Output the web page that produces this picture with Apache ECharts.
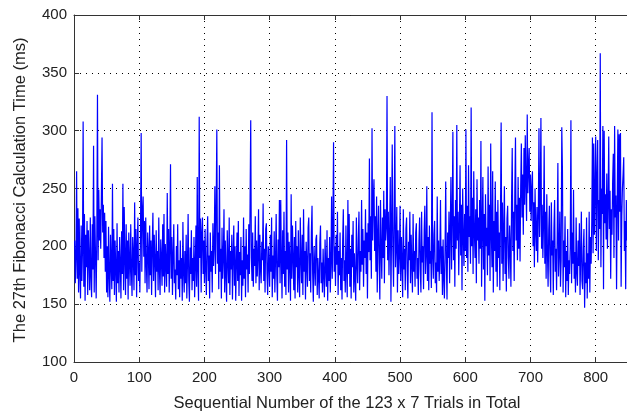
<!DOCTYPE html>
<html>
<head>
<meta charset="utf-8">
<script src="https://cdn.jsdelivr.net/npm/echarts@6/dist/echarts.min.js"></script>
<style>
html,body{margin:0;padding:0;background:#fff;}
#chart{width:627px;height:414px;}
</style>
</head>
<body>
<div id="chart"></div>
<script>
// Calculation time (ms) for each sequential trial (trial number = index + 1)
var calcTimes = [
205,168,190,265,172,233,160,224,178,155,218,170,196,308,165,228,153,210,182,222,
158,214,190,162,225,174,156,219,180,287,160,226,192,155,210,331,188,249,205,232,
198,245,294,212,236,190,229,178,222,160,200,156,217,175,152,210,184,163,254,170,
215,158,205,182,152,220,168,196,160,208,185,155,213,176,254,162,234,190,158,219,
172,205,154,212,188,166,219,180,157,208,193,162,238,175,215,156,200,225,170,186,
160,214,298,178,230,243,191,222,168,225,185,160,212,196,163,218,175,205,158,200,
229,170,210,188,156,214,178,196,162,225,180,158,206,190,166,219,174,228,160,202,
184,165,246,176,215,160,198,271,172,208,158,192,219,168,180,154,200,175,219,163,
188,156,205,172,190,153,221,178,160,196,168,210,155,185,228,170,152,199,176,214,
162,190,170,208,156,183,218,165,260,178,153,312,190,224,160,212,225,176,205,168,
215,180,158,203,226,170,192,155,212,178,196,160,220,183,200,252,176,230,301,185,
212,163,270,178,198,155,216,172,190,232,160,205,176,152,214,188,168,225,158,196,
180,210,154,192,218,166,200,153,185,212,170,222,157,195,175,208,153,188,166,225,
172,200,156,215,180,193,160,219,176,237,309,190,170,212,165,198,183,226,168,205,
174,192,232,162,210,180,168,204,188,237,170,198,160,215,220,176,158,200,186,165,
210,178,225,156,192,172,213,160,188,228,175,153,206,182,240,168,240,190,155,214,
176,230,165,196,158,292,180,212,160,204,186,153,245,172,218,190,162,208,155,222,
182,200,160,214,175,156,225,190,168,210,158,232,178,196,154,204,185,165,216,225,
170,194,160,212,235,176,152,200,185,166,206,210,158,190,174,155,203,218,168,186,
160,198,175,156,206,182,165,214,153,190,170,208,160,186,243,172,215,290,178,200,
166,210,184,230,158,196,175,212,162,190,154,205,232,170,188,160,218,180,156,240,
176,228,165,198,155,210,182,222,160,194,172,153,225,185,168,207,230,162,196,178,
240,184,215,165,205,190,232,176,212,155,220,195,276,188,226,172,302,205,240,258,
196,226,178,243,160,210,235,185,154,240,198,172,225,190,248,168,232,205,216,330,
188,230,175,210,260,152,218,288,196,165,225,304,182,200,234,160,214,176,192,235,
170,208,186,156,232,180,198,162,215,225,176,155,204,188,230,168,210,184,160,228,
178,196,165,212,220,172,190,158,205,225,180,160,230,186,200,163,214,235,176,193,
252,170,208,162,218,185,196,164,316,190,172,210,222,168,186,160,243,178,205,170,
192,240,176,200,158,206,172,155,198,256,185,154,212,190,230,168,215,260,180,224,
299,188,226,165,240,198,305,205,230,175,218,270,192,236,162,250,210,183,228,196,
301,190,235,178,270,208,226,185,320,200,242,176,265,212,190,232,168,258,205,225,
185,240,198,291,165,215,260,180,228,153,245,200,216,175,269,192,236,170,289,210,
182,265,160,222,196,256,178,230,165,240,190,212,162,226,307,185,238,170,215,252,
176,208,161,224,235,190,172,218,200,165,240,285,196,230,170,248,294,205,236,188,
260,198,242,187,252,289,225,262,210,285,236,296,255,222,314,246,268,285,230,262,
222,250,265,200,238,182,250,215,196,234,186,226,302,208,244,311,198,236,190,220,
287,185,230,172,245,196,165,214,235,180,160,238,192,205,158,216,240,178,198,162,
210,272,174,195,230,165,188,303,266,160,205,182,226,156,196,170,215,158,188,176,
200,309,168,212,185,249,172,195,160,225,178,166,205,183,220,158,192,230,170,163,
198,215,147,186,168,225,155,194,172,230,160,208,185,222,294,194,289,210,246,295,
196,258,292,188,240,215,367,182,250,228,304,163,300,220,245,206,263,198,236,295,
215,248,172,232,210,256,280,190,304,225,244,163,238,301,205,297,230,298,165,226,
250,262,277,196,222,163,240,205
];

// Axis settings (tick labels are generated from these)
var xMin = 0, xMax = 848, xStep = 100;
var yMin = 100, yMax = 400, yStep = 50;
var xTitle = 'Sequential Number of the 123 x 7 Trials in Total';
var yTitle = 'The 27th Fibonacci Calculation Time (ms)';

var seriesData = calcTimes.map(function (v, i) { return [i + 1, v]; });

var FONT = 'Liberation Sans, Arial, Helvetica, sans-serif';
var AX = '#333333';

var chart = echarts.init(document.getElementById('chart'), null, {renderer: 'canvas'});
chart.setOption({
  animation: false,
  backgroundColor: '#ffffff',
  grid: {left: 74, top: 15, width: 554, height: 347, containLabel: false},
  xAxis: [{
    type: 'value', min: xMin, max: xMax, interval: xStep, position: 'bottom',
    axisLine: {show: true, onZero: false, lineStyle: {color: AX, width: 1}},
    axisTick: {show: true, inside: true, length: 5, lineStyle: {color: AX}},
    axisLabel: {show: true, margin: 8, color: '#222', fontSize: 15, fontFamily: FONT, showMaxLabel: false},
    splitLine: {show: true, lineStyle: {color: '#000', width: 1, type: [1, 5]}}
  }, {
    type: 'value', min: xMin, max: xMax, interval: xStep, position: 'top',
    axisLine: {show: true, onZero: false, lineStyle: {color: AX, width: 1}},
    axisTick: {show: true, inside: true, length: 5, lineStyle: {color: AX}},
    axisLabel: {show: false},
    splitLine: {show: false}
  }],
  yAxis: [{
    type: 'value', min: yMin, max: yMax, interval: yStep, position: 'left',
    axisLine: {show: true, onZero: false, lineStyle: {color: AX, width: 1}},
    axisTick: {show: true, inside: true, length: 5, lineStyle: {color: AX}},
    axisLabel: {show: true, margin: 7, color: '#222', fontSize: 15, fontFamily: FONT},
    splitLine: {show: true, lineStyle: {color: '#000', width: 1, type: [1, 5]}}
  }],
  graphic: [{
    type: 'text',
    x: 347, y: 403,
    style: {text: xTitle, fill: '#222', font: '16.5px ' + FONT, textAlign: 'center', textVerticalAlign: 'middle'}
  }, {
    type: 'text',
    x: 20, y: 190, rotation: Math.PI / 2,
    style: {text: yTitle, fill: '#222', font: '16.5px ' + FONT, textAlign: 'center', textVerticalAlign: 'middle'}
  }],
  series: [{
    type: 'line', xAxisIndex: 0, yAxisIndex: 0,
    data: seriesData,
    showSymbol: false, symbol: 'none',
    lineStyle: {color: '#0000ff', width: 1.2},
    clip: true
  }]
});
</script>
</body>
</html>
